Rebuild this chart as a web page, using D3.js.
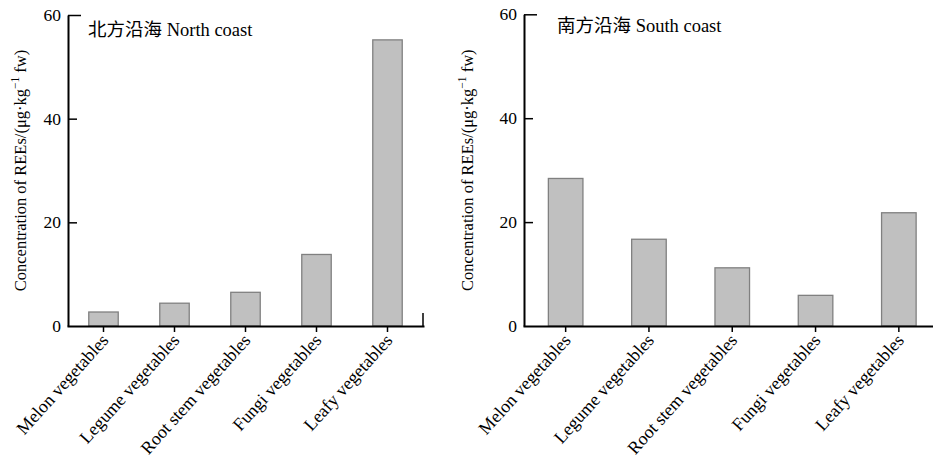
<!DOCTYPE html>
<html>
<head>
<meta charset="utf-8">
<script src="https://cdn.jsdelivr.net/npm/d3@7"></script>
<style>
    body { margin: 0; background: #fff; }
    svg { display: block; font-family: "Liberation Serif", "Noto Sans CJK SC", serif; }
</style>
</head>
<body>
<svg id="chart" width="933" height="460"></svg>
<script>
// Data
const categories = ["Melon vegetables", "Legume vegetables", "Root stem vegetables", "Fungi vegetables", "Leafy vegetables"];
const northValues = [2.7, 4.4, 6.5, 13.8, 55.2];
const southValues = [28.4, 16.7, 11.2, 5.9, 21.8];
const yTicks = [0, 20, 40, 60];
const northTitle = "北方沿海 North coast";
const southTitle = "南方沿海 South coast";

const svg = d3.select("#chart");

function drawPanel(opts) {
    const g = svg.append("g");

    const x = d3.scaleBand()
        .domain(categories)
        .range([opts.left, opts.right])
        .paddingInner(0.585)
        .paddingOuter(0.2925);

    const y = d3.scaleLinear()
        .domain([0, 60])
        .range([opts.bottom, opts.top]);

    // bars
    g.selectAll("rect")
        .data(opts.values)
        .enter().append("rect")
        .attr("x", (d, i) => x(categories[i]))
        .attr("y", d => y(d))
        .attr("width", x.bandwidth())
        .attr("height", d => y(0) - y(d))
        .attr("fill", "#c0c0c0")
        .attr("stroke", "#808080")
        .attr("stroke-width", 1.3);

    // y axis, ticks pointing inwards
    const yAxis = g.append("g")
        .attr("transform", `translate(${opts.left},0)`)
        .call(d3.axisLeft(y).tickValues(yTicks).tickSizeInner(-9).tickSizeOuter(0).tickPadding(7));
    yAxis.select(".domain").attr("stroke-width", 2);
    yAxis.selectAll(".tick line").attr("stroke-width", 1.5)
        .attr("x2", d => d === 60 ? 13 : 9);
    yAxis.selectAll(".tick line").filter(d => d === 0).remove();
    yAxis.selectAll("text")
        .attr("font-size", 17.5)
        .attr("font-family", "Liberation Serif")
        .attr("fill", "#000");

    // x axis
    const xAxis = g.append("g")
        .attr("transform", `translate(0,${opts.bottom})`)
        .call(d3.axisBottom(x).tickSizeInner(6).tickSizeOuter(0));
    xAxis.select(".domain").attr("stroke-width", 2).attr("stroke-linecap", "square");
    xAxis.selectAll(".tick line").attr("stroke-width", 1.5);
    xAxis.selectAll("text")
        .attr("x", 0)
        .attr("y", 0)
        .attr("dy", null)
        .attr("text-anchor", "end")
        .attr("transform", "translate(6,15) rotate(-48)")
        .attr("font-size", 18)
        .attr("font-family", "Liberation Serif")
        .attr("fill", "#000");

    if (opts.endTick) {
        g.append("line")
            .attr("x1", opts.right).attr("x2", opts.right)
            .attr("y1", opts.bottom).attr("y2", opts.bottom - 13)
            .attr("stroke", "#000")
            .attr("stroke-width", 1.5);
    }

    // y axis title
    const label = g.append("text")
        .attr("transform", `translate(${opts.labelX},${(opts.top + opts.bottom) / 2}) rotate(-90)`)
        .attr("text-anchor", "middle")
        .attr("font-size", 16.5)
        .attr("font-family", "Liberation Serif");
    label.append("tspan").text("Concentration of REEs/(μg·kg");
    label.append("tspan").text("−1").attr("font-size", 11.5).attr("dy", -7);
    label.append("tspan").text(" fw)").attr("dy", 7);

    // panel title
    g.append("text")
        .attr("x", opts.titleX)
        .attr("y", opts.titleY)
        .attr("font-size", 18.5)
        .text(opts.title);
}

drawPanel({
    values: northValues, title: northTitle,
    left: 68, right: 423, top: 15, bottom: 326,
    labelX: 26, titleX: 88, titleY: 36, endTick: true
});

drawPanel({
    values: southValues, title: southTitle,
    left: 524, right: 940.5, top: 14.3, bottom: 326,
    labelX: 473, titleX: 557, titleY: 32, endTick: false
});
</script>
</body>
</html>
